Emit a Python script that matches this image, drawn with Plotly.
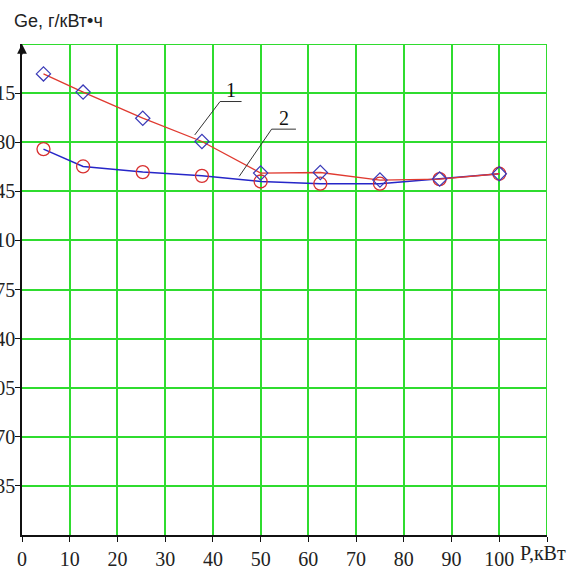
import plotly.graph_objects as go

# Data
P = [4.5, 12.8, 25.3, 37.7, 50.0, 62.5, 75.0, 87.5, 100.0]
Ge1 = [328.7, 315.7, 297.1, 280.5, 258.0, 258.4, 253.0, 253.7, 257.5]
Ge2 = [275.1, 262.7, 258.7, 256.0, 252.0, 250.4, 250.4, 253.7, 257.5]

x_ticks = [0, 10, 20, 30, 40, 50, 60, 70, 80, 90, 100, 110]
x_text = ["0", "10", "20", "30", "40", "50", "60", "70", "80", "90", "100", ""]
y_ticks = [35, 70, 105, 140, 175, 210, 245, 280, 315]
y_text = ["35", "70", "105", "140", "175", "210", "245", "280", "315"]

GRID = "#2fdc2f"
SERIF = "Liberation Serif"
SANS = "Liberation Sans"

fig = go.Figure()

fig.add_trace(go.Scatter(x=P, y=Ge2, mode="lines",
                         line=dict(color="#2626c8", width=1.5), showlegend=False))
fig.add_trace(go.Scatter(x=P, y=Ge1, mode="lines",
                         line=dict(color="#e03a30", width=1.3), showlegend=False))
fig.add_trace(go.Scatter(x=P, y=Ge2, mode="markers",
                         marker=dict(symbol="circle-open", size=13, color="#d83030",
                                     line=dict(color="#d83030", width=1.3)),
                         showlegend=False))
fig.add_trace(go.Scatter(x=P, y=Ge1, mode="markers",
                         marker=dict(symbol="diamond-open", size=11, color="#3a3ab8",
                                     line=dict(color="#3a3ab8", width=1.2)),
                         showlegend=False))

shapes = []
# grid lines at the top and right edges
shapes.append(dict(type="line", xref="x", yref="y", x0=0, x1=110, y0=350, y1=350,
                   line=dict(color=GRID, width=2), layer="below"))
shapes.append(dict(type="line", xref="x", yref="y", x0=110, x1=110, y0=0, y1=350,
                   line=dict(color=GRID, width=2), layer="below"))
# leader lines for curve labels
lead = dict(color="#333333", width=1)
shapes.append(dict(type="line", x0=36.2, y0=285.2, x1=41.5, y1=309, line=lead))
shapes.append(dict(type="line", x0=41.5, y0=309, x1=46.0, y1=309, line=lead))
shapes.append(dict(type="line", x0=45.5, y0=255.6, x1=52.3, y1=289.3, line=lead))
shapes.append(dict(type="line", x0=52.3, y0=289.3, x1=57.4, y1=289.3, line=lead))

annotations = [
    dict(text="1", x=43.8, y=317, xref="x", yref="y", showarrow=False,
         font=dict(family=SERIF, size=20, color="#111111")),
    dict(text="2", x=54.9, y=297, xref="x", yref="y", showarrow=False,
         font=dict(family=SERIF, size=20, color="#111111")),
    dict(text="Ge, г/кВт•ч", xref="paper", yref="paper", x=-0.019, y=1.046,
         xanchor="left", yanchor="middle", showarrow=False,
         font=dict(family=SANS, size=18, color="#222222")),
    dict(text="P,кВт", xref="x", yref="paper", x=104.0, y=-0.036,
         xanchor="left", yanchor="middle", showarrow=False,
         font=dict(family=SERIF, size=20, color="#222222")),
    # axis arrows
    dict(x=110.4, y=0, xref="x", yref="y", ax=-12, ay=0, text="", showarrow=True,
         arrowhead=2, arrowsize=1.3, arrowwidth=1.5, arrowcolor="#111111", standoff=0),
    dict(x=0, y=350, xref="x", yref="y", ax=0, ay=12, text="", showarrow=True,
         arrowhead=2, arrowsize=1.3, arrowwidth=1.5, arrowcolor="#111111", standoff=0),
]

fig.update_layout(
    width=581, height=568,
    font=dict(family=SERIF, size=20, color="#222222"),
    margin=dict(l=22, r=34, t=44, b=33, autoexpand=False),
    paper_bgcolor="white", plot_bgcolor="white",
    shapes=shapes, annotations=annotations,
    xaxis=dict(range=[0, 110], tickvals=x_ticks, ticktext=x_text, automargin=False,
               showgrid=True, gridcolor=GRID, gridwidth=2,
               showline=True, linecolor="#111111", linewidth=1.5,
               ticks="outside", ticklen=5, tickcolor="#111111",
               zeroline=False, fixedrange=True,
               tickfont=dict(family=SERIF, size=20, color="#222222")),
    yaxis=dict(range=[0, 350], tickvals=y_ticks, ticktext=y_text, automargin=False,
               showgrid=True, gridcolor=GRID, gridwidth=2,
               showline=True, linecolor="#111111", linewidth=1.5,
               ticks="outside", ticklen=5, tickcolor="#111111",
               ticklabelstandoff=-4,
               zeroline=False, fixedrange=True,
               tickfont=dict(family=SERIF, size=20, color="#222222")),
)

fig.write_html("out.html", config={"displayModeBar": False},
               post_script="document.body.style.margin='0';")
